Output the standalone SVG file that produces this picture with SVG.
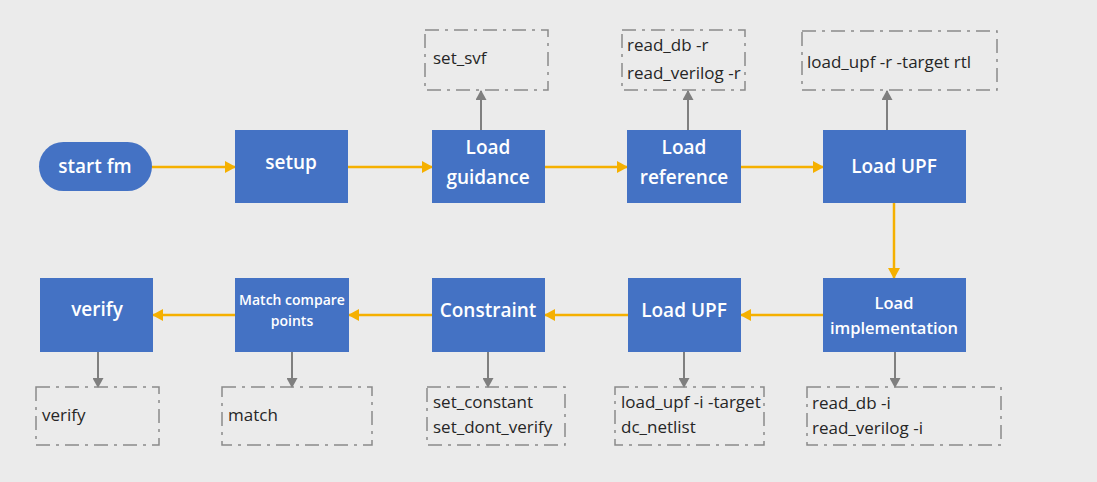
<svg xmlns="http://www.w3.org/2000/svg" width="1097" height="482" viewBox="0 0 1097 482">
<style>
.node{fill:#4472C4;}
.nt{font-family:"Open Sans",sans-serif;font-weight:600;fill:#ffffff;text-anchor:middle;}
.box{fill:none;stroke:#8a8a8a;stroke-width:1.5;stroke-dasharray:14 6 3 6;}
.bt{font-family:"Open Sans",sans-serif;font-size:17px;fill:#262626;}
.oa{stroke:#F5B000;stroke-width:2.5;fill:none;marker-end:url(#ao);}
.ga{stroke:#7f7f7f;stroke-width:2;fill:none;marker-end:url(#ag);}
</style>
<defs>
<marker id="ao" markerWidth="11" markerHeight="12" refX="10" refY="6" orient="auto" markerUnits="userSpaceOnUse"><path d="M0,0 L11,6 L0,12 Z" fill="#F5B000"/></marker>
<marker id="ag" markerWidth="10" markerHeight="11" refX="9" refY="5.5" orient="auto" markerUnits="userSpaceOnUse"><path d="M0,0 L10,5.5 L0,11 Z" fill="#7f7f7f"/></marker>
</defs>
<rect x="0" y="0" width="1097" height="482" fill="#ebebeb"/>

<g id="connectors">
<line class="oa" x1="152" y1="167" x2="235" y2="167"/>
<line class="oa" x1="348" y1="167" x2="432" y2="167"/>
<line class="oa" x1="545" y1="167" x2="627" y2="167"/>
<line class="oa" x1="741" y1="167" x2="823" y2="167"/>
<line class="oa" x1="894" y1="203" x2="894" y2="278"/>
<line class="oa" x1="823" y1="315" x2="741" y2="315"/>
<line class="oa" x1="628" y1="315" x2="545" y2="315"/>
<line class="oa" x1="432" y1="315" x2="349" y2="315"/>
<line class="oa" x1="235" y1="315" x2="153" y2="315"/>
<line class="ga" x1="481" y1="130" x2="481" y2="91"/>
<line class="ga" x1="688" y1="130" x2="688" y2="91"/>
<line class="ga" x1="887" y1="130" x2="887" y2="91"/>
<line class="ga" x1="98" y1="352" x2="98" y2="387"/>
<line class="ga" x1="292" y1="352" x2="292" y2="387"/>
<line class="ga" x1="488" y1="352" x2="488" y2="387"/>
<line class="ga" x1="684" y1="352" x2="684" y2="387"/>
<line class="ga" x1="895" y1="352" x2="895" y2="387"/>
</g>

<g id="start">
<rect class="node" x="39" y="142" width="113" height="49" rx="24.5"/>
<text class="nt" x="95" y="173" font-size="19">start fm</text>
</g>
<g id="setup">
<rect class="node" x="235" y="130" width="113" height="73"/>
<text class="nt" x="291" y="169" font-size="19">setup</text>
</g>
<g id="load-guidance">
<rect class="node" x="432" y="130" width="113" height="73"/>
<text class="nt" x="488" y="154" font-size="19">Load</text>
<text class="nt" x="488" y="184" font-size="19">guidance</text>
</g>
<g id="load-reference">
<rect class="node" x="627" y="130" width="114" height="73"/>
<text class="nt" x="684" y="154" font-size="19">Load</text>
<text class="nt" x="684" y="184" font-size="19">reference</text>
</g>
<g id="load-upf-top">
<rect class="node" x="823" y="130" width="143" height="73"/>
<text class="nt" x="894" y="173" font-size="19">Load UPF</text>
</g>
<g id="load-implementation">
<rect class="node" x="823" y="278" width="143" height="74"/>
<text class="nt" x="894" y="309" font-size="16.5">Load</text>
<text class="nt" x="894" y="334" font-size="16.5">implementation</text>
</g>
<g id="load-upf-bottom">
<rect class="node" x="628" y="278" width="113" height="74"/>
<text class="nt" x="684" y="317" font-size="19">Load UPF</text>
</g>
<g id="constraint">
<rect class="node" x="432" y="278" width="113" height="74"/>
<text class="nt" x="488" y="317" font-size="19">Constraint</text>
</g>
<g id="match-compare">
<rect class="node" x="235" y="278" width="114" height="74"/>
<text class="nt" x="292" y="305" font-size="14">Match compare</text>
<text class="nt" x="292" y="326" font-size="14">points</text>
</g>
<g id="verify">
<rect class="node" x="40" y="278" width="113" height="74"/>
<text class="nt" x="97" y="316" font-size="19">verify</text>
</g>

<g id="box-set-svf">
<rect class="box" x="425" y="30" width="123" height="60"/>
<text class="bt" x="433" y="64">set_svf</text>
</g>
<g id="box-read-r">
<rect class="box" x="622" y="30" width="123" height="60"/>
<text class="bt" x="627" y="51">read_db -r</text>
<text class="bt" x="627" y="79">read_verilog -r</text>
</g>
<g id="box-upf-r">
<rect class="box" x="802" y="31" width="195" height="59"/>
<text class="bt" x="807" y="68">load_upf -r -target rtl</text>
</g>
<g id="box-verify">
<rect class="box" x="36" y="387" width="123" height="58"/>
<text class="bt" x="42" y="421">verify</text>
</g>
<g id="box-match">
<rect class="box" x="222" y="387" width="150" height="58"/>
<text class="bt" x="228" y="421">match</text>
</g>
<g id="box-constant">
<rect class="box" x="427" y="387" width="138" height="58"/>
<text class="bt" x="433" y="408">set_constant</text>
<text class="bt" x="433" y="433">set_dont_verify</text>
</g>
<g id="box-upf-i">
<rect class="box" x="615" y="387" width="149" height="58"/>
<text class="bt" x="621" y="408">load_upf -i -target</text>
<text class="bt" x="621" y="433">dc_netlist</text>
</g>
<g id="box-read-i">
<rect class="box" x="807" y="387" width="194" height="58"/>
<text class="bt" x="812" y="409">read_db -i</text>
<text class="bt" x="812" y="434">read_verilog -i</text>
</g>
</svg>
